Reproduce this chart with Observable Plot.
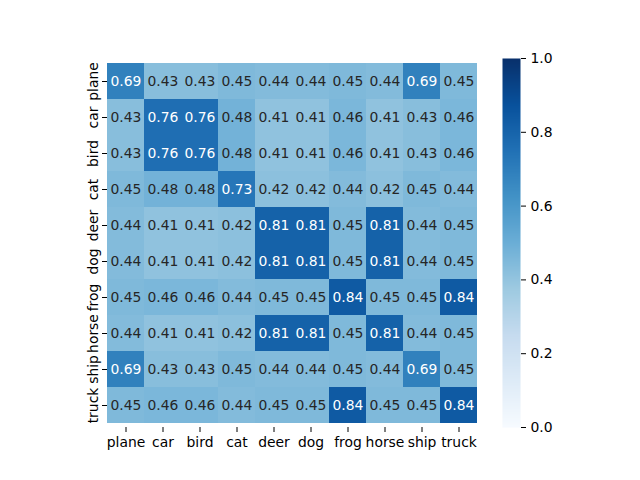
<!DOCTYPE html>
<html>
<head>
<meta charset="utf-8">
<script src="https://cdn.jsdelivr.net/npm/d3@7"></script>
<script src="https://cdn.jsdelivr.net/npm/@observablehq/plot@0.6"></script>
<style>
  body { margin: 0; background: white; }
  #wrap { position: relative; width: 640px; height: 480px; }
  #wrap > svg { position: absolute; top: 0; }
</style>
</head>
<body>
<div id="wrap"></div>
<script>
const classes = ["plane", "car", "bird", "cat", "deer", "dog", "frog", "horse", "ship", "truck"];

const values = [
  [0.69, 0.43, 0.43, 0.45, 0.44, 0.44, 0.45, 0.44, 0.69, 0.45],
  [0.43, 0.76, 0.76, 0.48, 0.41, 0.41, 0.46, 0.41, 0.43, 0.46],
  [0.43, 0.76, 0.76, 0.48, 0.41, 0.41, 0.46, 0.41, 0.43, 0.46],
  [0.45, 0.48, 0.48, 0.73, 0.42, 0.42, 0.44, 0.42, 0.45, 0.44],
  [0.44, 0.41, 0.41, 0.42, 0.81, 0.81, 0.45, 0.81, 0.44, 0.45],
  [0.44, 0.41, 0.41, 0.42, 0.81, 0.81, 0.45, 0.81, 0.44, 0.45],
  [0.45, 0.46, 0.46, 0.44, 0.45, 0.45, 0.84, 0.45, 0.45, 0.84],
  [0.44, 0.41, 0.41, 0.42, 0.81, 0.81, 0.45, 0.81, 0.44, 0.45],
  [0.69, 0.43, 0.43, 0.45, 0.44, 0.44, 0.45, 0.44, 0.69, 0.45],
  [0.45, 0.46, 0.46, 0.44, 0.45, 0.45, 0.84, 0.45, 0.45, 0.84]
];

const colorbarTicks = [0, 0.2, 0.4, 0.6, 0.8, 1.0];

// matplotlib "Blues" stops
const blues = ["#f7fbff", "#deebf7", "#c6dbef", "#9ecae1", "#6baed6", "#4292c6", "#2171b5", "#08519c", "#08306b"];

const cells = classes.flatMap((r, i) => classes.map((c, j) => ({row: r, col: c, v: values[i][j]})));

const colorOpts = {type: "linear", domain: blues.map((_, i) => i / 8), range: blues, interpolate: "rgb"};
const font = {fontFamily: "DejaVu Sans", fontSize: "13.9px", color: "black", background: "transparent", overflow: "visible"};

let heat = Plot.plot({
  width: 640,
  height: 480,
  marginLeft: 107,
  marginRight: 163,
  marginTop: 58,
  marginBottom: 53,
  x: {domain: classes, padding: 0, label: null, tickSize: 5, tickPadding: 5},
  y: {domain: classes, padding: 0, label: null, tickSize: 5, tickPadding: 5, tickRotate: -90},
  color: colorOpts,
  style: font,
  marks: [
    Plot.cell(cells, {x: "col", y: "row", fill: "v", inset: 0}),
    Plot.text(cells.filter(d => d.v > 0.6), {x: "col", y: "row", text: d => d.v.toFixed(2), fill: "white", fontSize: 13.9}),
    Plot.text(cells.filter(d => d.v <= 0.6), {x: "col", y: "row", text: d => d.v.toFixed(2), fill: "#262626", fontSize: 13.9})
  ]
})

let bar = Plot.plot({
  width: 80,
  height: 480,
  marginLeft: 0,
  marginRight: 62,
  marginTop: 58,
  marginBottom: 53,
  x: {domain: [0, 1], axis: null},
  y: {domain: [0, 1], ticks: colorbarTicks, tickFormat: ".1f", label: null, axis: "right", tickSize: 5, tickPadding: 5},
  color: colorOpts,
  style: font,
  marks: [
    Plot.raster({x1: 0, x2: 1, y1: 0, y2: 1, fill: (x, y) => y, pixelSize: 1})
  ]
})
bar.style.left = "502px"

d3.select('#wrap').append(() => heat)
d3.select('#wrap').append(() => bar)
</script>
</body>
</html>
